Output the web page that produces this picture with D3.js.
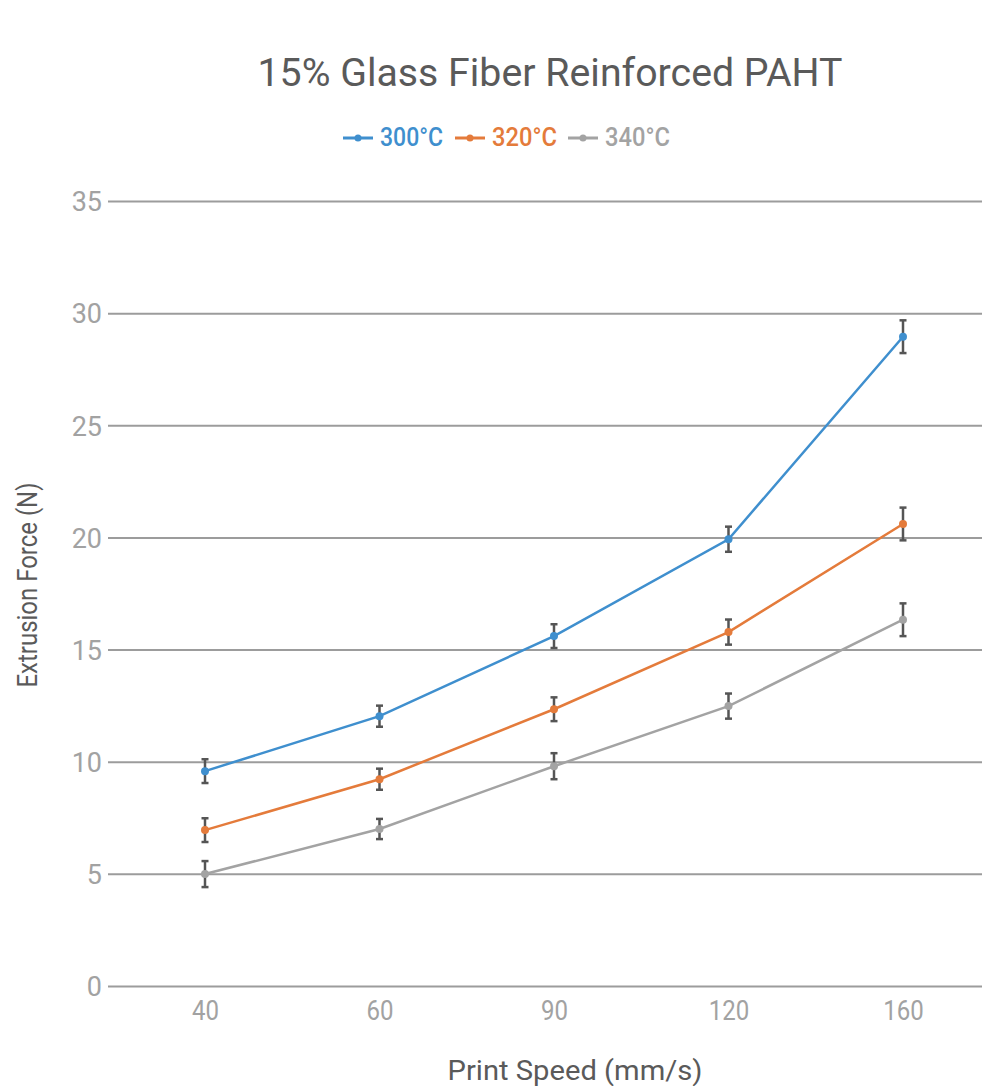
<!DOCTYPE html>
<html><head><meta charset="utf-8">
<script src="https://cdn.jsdelivr.net/npm/d3@7"></script>
<style>body{margin:0;background:#fff}svg{display:block}</style>
</head><body><svg id="c" width="982" height="1086"></svg>
<script>
const categories = ["40","60","90","120","160"];
const seriesNames = ["300°C","320°C","340°C"];
const colors = ["#3f8fce","#e47b3b","#a3a3a3"];
const values300 = [9.58, 12.03, 15.6, 19.92, 28.95];
const values320 = [6.95, 9.22, 12.34, 15.78, 20.6];
const values340 = [4.99, 7.0, 9.8, 12.48, 16.33];
const err300 = [0.53, 0.47, 0.53, 0.56, 0.73];
const err320 = [0.53, 0.47, 0.53, 0.56, 0.73];
const err340 = [0.58, 0.45, 0.58, 0.56, 0.73];
const yTicks = [0,5,10,15,20,25,30,35];

const series = [
  {name: seriesNames[0], color: colors[0], v: values300, e: err300},
  {name: seriesNames[1], color: colors[1], v: values320, e: err320},
  {name: seriesNames[2], color: colors[2], v: values340, e: err340}
];

const svg = d3.select("#c");
const font = "Roboto, 'DejaVu Sans', sans-serif";
const x = d3.scalePoint().domain(categories).range([205, 903]);
const y = d3.scaleLinear().domain([0, 35]).range([986, 201]);

// grid + y axis
const yAxis = d3.axisLeft(y).tickValues(yTicks).tickSize(-(982-108)).tickPadding(6).tickFormat(d3.format("d"));
const gy = svg.append("g").attr("transform","translate(108,0)").call(yAxis);
gy.select(".domain").remove();
gy.selectAll(".tick line").attr("stroke","#9c9c9c").attr("stroke-width",2);
gy.selectAll(".tick text").attr("fill","#a2a2a2").attr("font-size",27).attr("font-family",font)
  .attr("x",-6).attr("dy","0.36em");

// x axis labels
const xAxis = d3.axisBottom(x).tickSize(0).tickPadding(0);
const gx = svg.append("g").attr("transform","translate(0,986)").call(xAxis);
gx.select(".domain").remove();
gx.selectAll(".tick text").attr("fill","#a2a2a2").attr("font-size",28).attr("font-family",font)
  .attr("dy",null).attr("y",34)
  .attr("textLength", d => d.length * 13.5)
  .attr("lengthAdjust","spacingAndGlyphs");

// lines
const line = d3.line().x((d,i)=>x(categories[i])).y(d=>y(d));
series.forEach(s=>{
  svg.append("path").datum(s.v).attr("d",line).attr("fill","none")
    .attr("stroke",s.color).attr("stroke-width",2.5);
});
// error bars and points
series.forEach(s=>{
  const g = svg.append("g");
  s.v.forEach((v,i)=>{
    const cx = x(categories[i]);
    g.append("line").attr("x1",cx).attr("x2",cx).attr("y1",y(v+s.e[i])).attr("y2",y(v-s.e[i]))
      .attr("stroke","#555").attr("stroke-width",2.5);
    [v+s.e[i], v-s.e[i]].forEach(t=>{
      g.append("line").attr("x1",cx-3.5).attr("x2",cx+3.5).attr("y1",y(t)).attr("y2",y(t))
        .attr("stroke","#555").attr("stroke-width",2.5);
    });
  });
  g.selectAll("circle").data(s.v).join("circle")
    .attr("cx",(d,i)=>x(categories[i])).attr("cy",d=>y(d)).attr("r",4).attr("fill",s.color);
});

// title
svg.append("text").attr("x",550).attr("y",86).attr("text-anchor","middle")
  .attr("font-family",font).attr("font-size",39).attr("fill","#5a5a5a")
  .attr("textLength",585).attr("lengthAdjust","spacingAndGlyphs")
  .text("15% Glass Fiber Reinforced PAHT");

// legend
const legX = [343, 455, 568];
const legTextW = [63, 65, 65];
series.forEach((s,i)=>{
  const lx = legX[i];
  svg.append("line").attr("x1",lx).attr("x2",lx+30).attr("y1",138).attr("y2",138)
    .attr("stroke",s.color).attr("stroke-width",3);
  svg.append("circle").attr("cx",lx+15).attr("cy",138).attr("r",3.5).attr("fill",s.color);
  svg.append("text").attr("x",lx+37).attr("y",145.5).attr("font-family",font).attr("font-size",25)
    .attr("font-weight",500).attr("fill",s.color)
    .attr("textLength",legTextW[i]).attr("lengthAdjust","spacingAndGlyphs").text(s.name);
});

// axis titles
svg.append("text").attr("x",575).attr("y",1080).attr("text-anchor","middle")
  .attr("font-family",font).attr("font-size",27).attr("fill","#5a5a5a")
  .attr("textLength",255).attr("lengthAdjust","spacingAndGlyphs")
  .text("Print Speed (mm/s)");
svg.append("text").attr("transform","translate(37,585) rotate(-90)").attr("text-anchor","middle")
  .attr("font-family",font).attr("font-size",27).attr("fill","#5a5a5a")
  .attr("textLength",205).attr("lengthAdjust","spacingAndGlyphs")
  .text("Extrusion Force (N)");
</script></body></html>
